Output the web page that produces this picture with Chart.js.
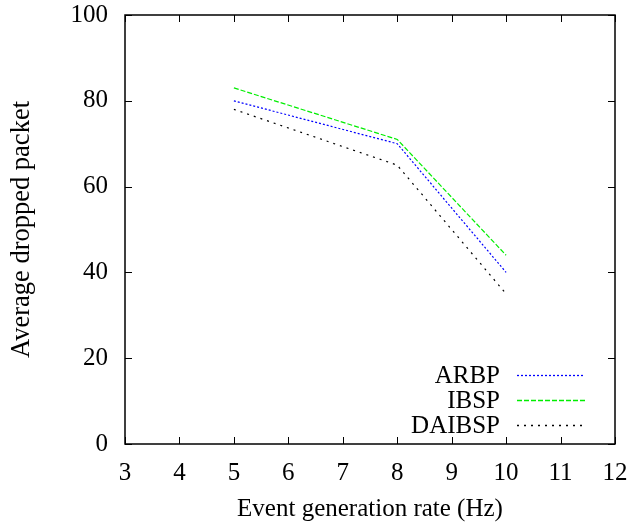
<!DOCTYPE html>
<html>
<head>
<meta charset="utf-8">
<script src="https://cdn.jsdelivr.net/npm/chart.js@4/dist/chart.umd.min.js"></script>
<style>
  html, body { margin: 0; padding: 0; background: #fff; }
  #wrap { width: 635px; height: 523px; }
</style>
</head>
<body>
<div id="wrap"><canvas id="plot"></canvas></div>
<script>
// Donnees
const rates = [5, 8, 10];
const arbp = [80, 70, 40];
const ibsp = [83, 71, 44];
const daibsp = [78, 65, 35];
const xTicks = [3, 4, 5, 6, 7, 8, 9, 10, 11, 12];
const yTicks = [0, 20, 40, 60, 80, 100];

const serif = '"Liberation Serif", "DejaVu Serif", serif';

const toPoints = (vals) => rates.map((r, i) => ({ x: r, y: vals[i] }));

// Cadre, graduations interieures et legende facon gnuplot
const gnuplotFrame = {
    id: 'gnuplotFrame',
    afterDraw(chart) {
        const ctx = chart.ctx;
        const a = chart.chartArea;
        const sx = chart.scales.x;
        const sy = chart.scales.y;
        const len = 7;
        ctx.save();
        ctx.strokeStyle = '#000';
        ctx.lineWidth = 1.5;
        ctx.setLineDash([]);
        ctx.strokeRect(a.left, a.top, a.right - a.left, a.bottom - a.top);
        ctx.lineWidth = 1;
        ctx.beginPath();
        xTicks.forEach((t) => {
            const px = Math.round(sx.getPixelForValue(t)) + 0.5;
            ctx.moveTo(px, a.bottom); ctx.lineTo(px, a.bottom - len);
            ctx.moveTo(px, a.top); ctx.lineTo(px, a.top + len);
        });
        yTicks.forEach((t) => {
            const py = Math.round(sy.getPixelForValue(t)) + 0.5;
            ctx.moveTo(a.left, py); ctx.lineTo(a.left + len, py);
            ctx.moveTo(a.right, py); ctx.lineTo(a.right - len, py);
        });
        ctx.stroke();

        // legende
        ctx.font = '25px ' + serif;
        ctx.textAlign = 'right';
        ctx.textBaseline = 'middle';
        chart.data.datasets.forEach((ds, i) => {
            const y = 375 + i * 25;
            ctx.fillStyle = '#000';
            ctx.fillText(ds.label, 500, y + 1);
            ctx.strokeStyle = ds.borderColor;
            ctx.lineWidth = 1.3;
            ctx.setLineDash(ds.borderDash);
            ctx.beginPath();
            ctx.moveTo(517, y + 0.5);
            ctx.lineTo(585, y + 0.5);
            ctx.stroke();
        });
        ctx.restore();
    }
};

let chart = new Chart(document.getElementById('plot'), {
    type: 'line',
    data: {
        datasets: [
            { label: 'ARBP', data: toPoints(arbp), borderColor: '#0000ff', borderDash: [2, 2] },
            { label: 'IBSP', data: toPoints(ibsp), borderColor: '#00ee00', borderDash: [5, 2] },
            { label: 'DAIBSP', data: toPoints(daibsp), borderColor: '#000000', borderDash: [2, 5] }
        ].map((d) => Object.assign(d, { borderWidth: 1.2, pointRadius: 0, fill: false, tension: 0 }))
    },
    options: {
        responsive: true,
        maintainAspectRatio: false,
        animation: false,
        layout: { padding: { left: 0, top: 15, right: 20, bottom: 0 } },
        plugins: { legend: { display: false }, tooltip: { enabled: false } },
        scales: {
            x: {
                type: 'linear',
                min: 3, max: 12,
                afterBuildTicks: (s) => { s.ticks = xTicks.map((v) => ({ value: v })); },
                afterFit: (s) => { s.height = 79; s.paddingLeft = 0; s.paddingRight = 0; },
                grid: { display: false },
                border: { display: false },
                ticks: { color: '#000', font: { family: serif, size: 25 }, padding: 6 },
                title: { display: true, text: 'Event generation rate (Hz)', color: '#000',
                         font: { family: serif, size: 25 }, padding: { top: 0, bottom: -1 } }
            },
            y: {
                type: 'linear',
                min: 0, max: 100,
                afterBuildTicks: (s) => { s.ticks = yTicks.map((v) => ({ value: v })); },
                afterFit: (s) => { s.width = 125; s.paddingTop = 0; s.paddingBottom = 0; },
                grid: { display: false },
                border: { display: false },
                ticks: { color: '#000', font: { family: serif, size: 25 }, padding: 9 },
                title: { display: true, text: 'Average dropped packet', color: '#000',
                         font: { family: serif, size: 26.5 }, padding: { top: 6, bottom: 6 } }
            }
        }
    },
    plugins: [gnuplotFrame]
});
</script>
</body>
</html>
